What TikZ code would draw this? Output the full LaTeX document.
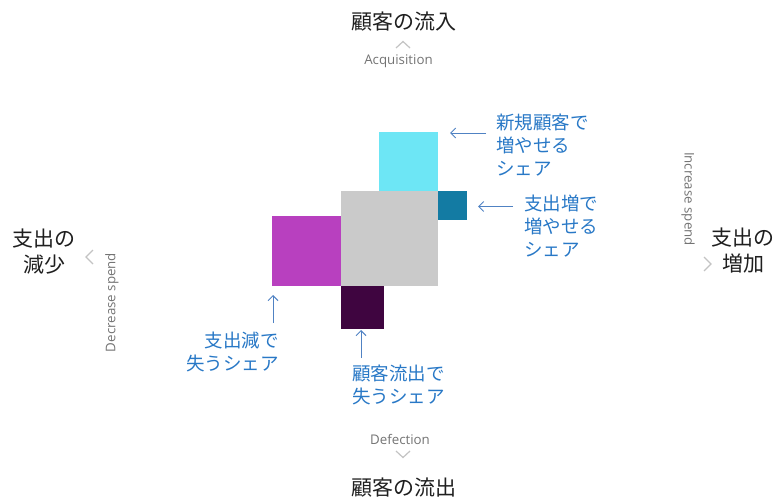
\documentclass[tikz,border=0pt]{standalone}
\usepackage{fontspec}
\setmainfont{Noto Sans CJK JP}
\newfontfamily\latinfont{Open Sans}
\usetikzlibrary{arrows.meta}
\definecolor{cyanbox}{RGB}{109,230,245}
\definecolor{graybox}{RGB}{202,202,202}
\definecolor{tealbox}{RGB}{19,123,163}
\definecolor{magbox}{RGB}{184,64,191}
\definecolor{purpbox}{RGB}{63,5,64}
\definecolor{noteblue}{RGB}{40,120,198}
\definecolor{arrowblue}{RGB}{80,130,195}
\definecolor{chevgray}{RGB}{195,195,195}
\definecolor{axisgray}{RGB}{115,115,115}
\begin{document}
\begin{tikzpicture}[x=1pt,y=-1pt,
  box/.style={draw=none, inner sep=0pt, outer sep=0pt, anchor=north west},
  head/.style={font=\fontsize{21}{26}\selectfont, text=black!88, align=center, inner sep=0pt},
  note/.style={font=\fontsize{18.5}{23}\selectfont, text=noteblue, inner sep=0pt},
  axislbl/.style={font=\latinfont\fontsize{13.3}{15}\selectfont, text=axisgray, inner sep=0pt},
  chev/.style={draw=chevgray, line width=1.2pt},
  pointer/.style={draw=arrowblue, line width=1pt, -{Straight Barb[length=5pt,width=10pt]}}
]
\useasboundingbox (0,0) rectangle (778,500);

% boxes
\node[box, fill=cyanbox, minimum width=59pt, minimum height=59pt] (cyanb) at (379,132) {};
\node[box, fill=graybox, minimum width=97pt, minimum height=95pt] (grayb) at (341,191) {};
\node[box, fill=tealbox, minimum width=29pt, minimum height=29pt] (tealb) at (438,191) {};
\node[box, fill=magbox, minimum width=69pt, minimum height=70pt] (magb) at (272,216) {};
\node[box, fill=purpbox, minimum width=43pt, minimum height=43pt] (purpb) at (341,286) {};

% headings
\node[head] (top) at (404,21.5) {顧客の流入};
\node[head] (bottom) at (404,488) {顧客の流出};
\node[head] (left) at (44,251.5) {支出の\\減少};
\node[head] (right) at (743,250.5) {支出の\\増加};

% axis labels
\node[axislbl] (acq) at (398.5,61) {Acquisition};
\node[axislbl] (def) at (400,439.5) {Defection};
\node[axislbl, rotate=90] (dec) at (112,302.5) {Decrease spend};
\node[axislbl, rotate=-90] (inc) at (688,199) {Increase spend};

% chevrons
\coordinate (cu1) at (396,48); \coordinate (cu2) at (403,41.5); \coordinate (cu3) at (410,48);
\draw[chev] (cu1) -- (cu2) -- (cu3);
\coordinate (cd1) at (396,451); \coordinate (cd2) at (403,457.5); \coordinate (cd3) at (410,451);
\draw[chev] (cd1) -- (cd2) -- (cd3);
\coordinate (cl1) at (93,250); \coordinate (cl2) at (86,257); \coordinate (cl3) at (93,264);
\draw[chev] (cl1) -- (cl2) -- (cl3);
\coordinate (cr1) at (704,257); \coordinate (cr2) at (711,264); \coordinate (cr3) at (704,271);
\draw[chev] (cr1) -- (cr2) -- (cr3);

% notes
\node[note, anchor=west, align=left] (n1) at (496,145) {新規顧客で\\増やせる\\シェア};
\node[note, anchor=west, align=left] (n2) at (524,226) {支出増で\\増やせる\\シェア};
\node[note, anchor=east, align=right] (n3) at (279,351.5) {支出減で\\失うシェア};
\node[note, anchor=west, align=left] (n4) at (352,384.5) {顧客流出で\\失うシェア};

% pointers
\coordinate (p1s) at (486,133); \coordinate (p1e) at (450,133);
\draw[pointer] (p1s) -- (p1e);
\coordinate (p2s) at (513,206.5); \coordinate (p2e) at (478,206.5);
\draw[pointer] (p2s) -- (p2e);
\coordinate (p3s) at (273,323); \coordinate (p3e) at (273,295);
\draw[pointer] (p3s) -- (p3e);
\coordinate (p4s) at (361,358); \coordinate (p4e) at (361,330);
\draw[pointer] (p4s) -- (p4e);
\end{tikzpicture}
\end{document}
